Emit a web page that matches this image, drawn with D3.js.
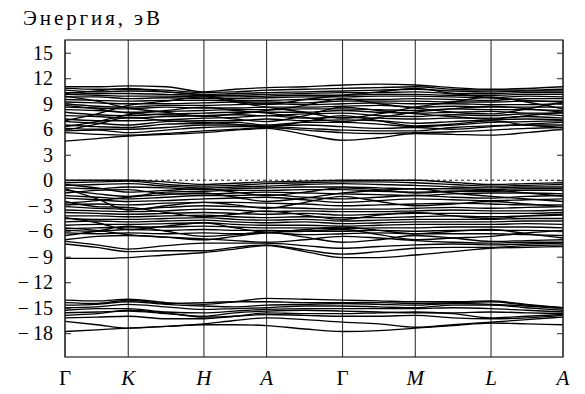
<!DOCTYPE html>
<html>
<head>
<meta charset="utf-8">
<script src="https://cdn.jsdelivr.net/npm/d3@7"></script>
<style>
  body { margin: 0; background: #fff; }
  svg { display: block; }
  svg text { font-family: "Liberation Serif", "Times New Roman", serif; }
</style>
</head>
<body>
<svg id="chart" width="585" height="394"></svg>
<script>
// k-path: high symmetry points and the sample grid (points + midpoints)
const kLabels = ['Γ', 'K', 'H', 'A', 'Γ', 'M', 'L', 'A'];
const kPoints = [0, 63.3, 139, 201.7, 277.7, 350.5, 426.3, 498.3];
const kGrid = [0, 32, 63.3, 101, 139, 170, 201.7, 240, 277.7, 314, 350.5, 388, 426.3, 462, 498.3];
const yTicks = [15, 12, 9, 6, 3, 0, -3, -6, -9, -12, -15, -18];

// conduction bands, eV
const conductionBands = [
  [4.6, 4.9, 5.2, 5.4, 5.6, 5.9, 6.1, 5.4, 4.7, 5.0, 5.5, 5.4, 5.3, 5.6, 6.0],
  [5.6, 5.4, 5.3, 5.5, 5.8, 6.0, 6.2, 5.9, 5.6, 5.5, 5.6, 5.7, 5.9, 6.1, 6.2],
  [5.8, 5.9, 5.6, 5.9, 6.2, 6.3, 6.3, 6.1, 5.9, 5.8, 5.8, 6.2, 6.4, 6.5, 6.5],
  [6.1, 6.0, 6.0, 6.2, 6.5, 6.5, 6.4, 6.5, 6.3, 6.1, 6.2, 6.0, 6.3, 6.6, 6.8],
  [6.5, 6.3, 6.2, 6.6, 6.7, 6.8, 6.5, 6.8, 6.8, 6.6, 6.3, 6.5, 6.8, 6.9, 7.0],
  [6.9, 6.7, 6.5, 6.9, 7.0, 7.0, 7.2, 7.0, 7.1, 7.0, 6.7, 6.9, 7.1, 7.2, 7.1],
  [7.2, 7.0, 7.0, 7.1, 7.3, 7.4, 7.6, 7.3, 7.4, 7.3, 7.2, 7.3, 7.3, 7.5, 7.3],
  [7.6, 7.5, 7.3, 7.5, 7.6, 7.7, 7.6, 7.8, 7.9, 7.6, 7.5, 7.7, 7.6, 7.8, 7.6],
  [8.0, 7.7, 7.6, 7.8, 7.9, 8.0, 8.0, 8.0, 8.2, 8.0, 7.9, 8.0, 8.1, 7.9, 7.9],
  [8.3, 8.2, 8.0, 8.1, 8.2, 8.3, 8.3, 8.4, 8.4, 8.3, 8.2, 8.4, 8.3, 8.3, 8.2],
  [8.6, 8.5, 8.4, 8.6, 8.5, 8.5, 8.6, 8.6, 8.7, 8.8, 8.6, 8.7, 8.6, 8.6, 8.6],
  [9.0, 8.7, 8.6, 8.8, 8.8, 8.9, 9.0, 8.9, 9.0, 9.1, 9.0, 9.0, 8.9, 8.9, 9.0],
  [9.2, 9.1, 9.0, 9.0, 9.1, 9.2, 9.2, 9.1, 9.3, 9.3, 9.3, 9.2, 9.2, 9.3, 9.3],
  [9.5, 9.4, 9.3, 9.4, 9.4, 9.4, 9.4, 9.5, 9.5, 9.5, 9.6, 9.5, 9.4, 9.6, 9.6],
  [9.8, 9.8, 9.6, 9.7, 9.6, 9.6, 9.7, 9.8, 9.8, 9.9, 9.9, 9.8, 9.7, 9.9, 9.8],
  [10.1, 10.0, 9.9, 9.9, 9.8, 9.8, 9.9, 10.0, 10.0, 10.1, 10.1, 10.0, 10.0, 10.1, 10.1],
  [10.3, 10.2, 10.2, 10.1, 10.0, 10.0, 10.1, 10.2, 10.3, 10.3, 10.4, 10.2, 10.2, 10.3, 10.3],
  [10.6, 10.4, 10.5, 10.4, 10.1, 10.2, 10.3, 10.4, 10.5, 10.6, 10.7, 10.5, 10.4, 10.5, 10.5],
  [10.8, 10.7, 10.7, 10.6, 10.3, 10.4, 10.6, 10.7, 10.8, 10.9, 11.0, 10.7, 10.6, 10.6, 10.7],
  [11.0, 11.0, 11.1, 11.0, 10.4, 10.7, 10.9, 11.0, 11.2, 11.3, 11.2, 10.9, 10.7, 10.8, 11.0],
  [9.9, 9.3, 8.5, 8.0, 7.5, 7.8, 8.2, 8.8, 9.6, 9.0, 8.5, 8.0, 7.8, 8.4, 9.2],
  [7.0, 7.8, 8.8, 9.3, 9.8, 9.2, 8.6, 8.0, 7.3, 7.8, 8.6, 9.2, 9.8, 9.2, 8.4],
  [5.9, 6.6, 7.4, 7.0, 6.8, 6.6, 6.3, 6.9, 7.6, 7.0, 6.4, 6.6, 7.0, 6.5, 6.2],
  [10.2, 10.5, 10.8, 10.4, 10.0, 9.4, 8.9, 9.5, 10.0, 10.4, 10.8, 10.2, 9.7, 9.4, 9.2],
  [8.8, 8.4, 7.9, 7.7, 7.6, 7.2, 6.9, 7.6, 8.6, 8.2, 7.8, 7.5, 7.2, 7.6, 8.0],
  [6.3, 6.9, 7.7, 8.2, 8.6, 8.2, 7.9, 7.4, 6.9, 7.4, 8.0, 8.4, 8.7, 8.4, 8.0]
];

// valence bands, eV
const valenceBands = [
  [0, 0, 0, -0.2, -0.5, -0.35, -0.2, -0.1, 0, 0, 0, -0.25, -0.5, -0.4, -0.3],
  [-0.3, -0.2, -0.1, -0.5, -0.7, -0.6, -0.4, -0.3, -0.2, -0.2, -0.3, -0.5, -0.7, -0.6, -0.5],
  [-0.6, -0.5, -0.4, -0.7, -0.9, -0.8, -0.7, -0.5, -0.4, -0.5, -0.6, -0.8, -0.9, -0.8, -0.8],
  [-0.9, -1.0, -0.8, -0.9, -1.1, -1.0, -0.9, -0.8, -0.8, -0.9, -1.0, -1.0, -1.1, -1.0, -1.0],
  [-1.2, -1.6, -1.9, -1.4, -1.3, -1.2, -1.2, -1.1, -1.1, -1.3, -1.4, -1.3, -1.3, -1.2, -1.2],
  [-1.5, -1.2, -1.1, -1.6, -1.6, -1.5, -1.4, -1.5, -1.6, -1.7, -1.8, -1.6, -1.5, -1.5, -1.6],
  [-1.8, -2.0, -2.2, -2.0, -1.8, -1.8, -1.7, -2.0, -2.2, -2.0, -1.8, -2.0, -2.1, -1.9, -1.8],
  [-2.1, -2.3, -2.5, -2.4, -2.2, -2.1, -2.0, -2.3, -2.6, -2.4, -2.2, -2.3, -2.4, -2.3, -2.2],
  [-2.9, -2.8, -2.9, -2.7, -2.6, -2.6, -2.7, -2.8, -3.0, -2.9, -2.8, -2.7, -2.8, -2.9, -2.9],
  [-3.1, -3.3, -3.4, -3.2, -3.0, -3.1, -3.2, -3.3, -3.4, -3.4, -3.3, -3.2, -3.3, -3.2, -3.1],
  [-3.5, -3.6, -3.7, -3.6, -3.4, -3.5, -3.7, -3.6, -3.7, -3.7, -3.6, -3.5, -3.6, -3.6, -3.5],
  [-3.8, -3.9, -4.0, -3.9, -3.8, -3.9, -4.0, -3.9, -4.1, -4.0, -3.9, -3.9, -3.9, -3.9, -3.8],
  [-4.2, -4.2, -4.3, -4.2, -4.1, -4.3, -4.4, -4.3, -4.4, -4.4, -4.3, -4.2, -4.3, -4.2, -4.1],
  [-4.5, -4.6, -4.6, -4.5, -4.4, -4.6, -4.7, -4.6, -4.8, -4.7, -4.6, -4.6, -4.6, -4.5, -4.5],
  [-4.9, -4.8, -4.9, -4.8, -4.7, -4.9, -5.0, -4.9, -5.1, -5.0, -4.9, -4.9, -4.9, -4.8, -4.8],
  [-5.3, -5.2, -5.2, -5.1, -5.0, -5.2, -5.3, -5.3, -5.4, -5.3, -5.2, -5.2, -5.2, -5.1, -5.2],
  [-5.7, -5.6, -5.5, -5.5, -5.4, -5.5, -5.6, -5.6, -5.7, -5.6, -5.6, -5.5, -5.5, -5.5, -5.6],
  [-5.9, -6.0, -5.8, -5.9, -5.8, -5.9, -5.9, -6.0, -6.0, -5.9, -6.0, -5.9, -5.9, -5.9, -6.0],
  [-6.2, -6.3, -6.2, -6.3, -6.2, -6.3, -6.2, -6.4, -6.3, -6.2, -6.3, -6.3, -6.3, -6.4, -6.5],
  [-7.0, -6.6, -6.5, -6.7, -6.9, -7.1, -7.3, -7.0, -6.6, -6.8, -7.1, -7.3, -7.4, -7.3, -7.3],
  [-7.2, -7.6, -8.1, -7.7, -7.4, -7.4, -7.4, -7.7, -8.0, -7.8, -7.6, -7.5, -7.6, -7.5, -7.4],
  [-7.5, -7.9, -8.4, -8.3, -8.3, -7.9, -7.6, -8.2, -8.7, -8.4, -8.0, -7.9, -7.9, -7.7, -7.6],
  [-9.2, -9.2, -9.1, -8.8, -8.5, -8.1, -7.7, -8.4, -9.1, -9.1, -8.8, -8.4, -8.0, -7.9, -7.8],
  [-1.0, -2.2, -3.5, -3.0, -2.6, -2.9, -3.3, -2.6, -1.9, -2.5, -3.0, -2.8, -2.5, -2.8, -3.1],
  [-2.5, -3.1, -3.2, -3.8, -4.3, -4.0, -3.6, -4.1, -4.6, -4.1, -3.8, -4.2, -4.5, -4.2, -4.0],
  [-4.4, -5.0, -5.8, -5.4, -5.0, -5.6, -6.1, -5.8, -5.5, -5.9, -6.3, -6.0, -5.8, -6.3, -6.8],
  [-6.5, -6.0, -5.4, -6.0, -6.6, -6.4, -6.1, -6.7, -7.3, -7.0, -6.5, -6.8, -7.2, -7.1, -7.0],
  [-2.7, -2.4, -2.0, -1.7, -1.5, -2.0, -2.5, -2.1, -1.5, -1.2, -1.0, -1.5, -1.9, -2.2, -2.5],
  [-0.5, -0.9, -1.4, -1.2, -1.0, -1.4, -1.8, -1.4, -0.9, -1.1, -1.5, -1.3, -1.2, -1.5, -1.9],
  [-5.6, -5.9, -6.4, -6.7, -7.0, -6.6, -6.2, -6.0, -5.8, -6.4, -7.0, -6.8, -6.6, -6.2, -5.9]
];

// semicore bands, eV
const semicoreBands = [
  [-14.1, -14.2, -14.0, -14.4, -14.6, -14.3, -13.9, -14.0, -14.1, -14.2, -14.3, -14.3, -14.2, -14.6, -15.0],
  [-14.4, -14.5, -14.1, -14.5, -14.4, -14.3, -14.3, -14.4, -14.4, -14.4, -14.5, -14.4, -14.3, -14.7, -15.0],
  [-14.7, -14.6, -14.3, -14.6, -14.8, -14.9, -14.7, -14.6, -14.5, -14.6, -14.7, -14.5, -14.6, -14.8, -15.1],
  [-15.0, -14.9, -14.6, -14.9, -15.2, -15.1, -15.0, -14.8, -14.8, -14.9, -15.0, -14.7, -14.7, -15.0, -15.3],
  [-15.3, -15.1, -15.1, -15.5, -15.6, -15.4, -15.2, -15.1, -15.1, -15.1, -15.1, -15.0, -15.1, -15.3, -15.5],
  [-15.6, -15.5, -15.4, -15.7, -16.0, -15.6, -15.4, -15.3, -15.4, -15.5, -15.6, -15.6, -15.5, -15.6, -15.7],
  [-15.9, -15.7, -15.3, -15.6, -16.1, -16.0, -15.6, -15.7, -15.7, -15.6, -15.5, -15.7, -16.2, -16.0, -15.8],
  [-16.2, -16.1, -16.0, -16.3, -16.3, -16.0, -15.8, -15.9, -16.0, -16.0, -15.9, -16.2, -16.3, -16.2, -15.9],
  [-17.8, -17.6, -17.4, -17.2, -17.0, -17.0, -17.1, -17.5, -17.8, -17.7, -17.4, -17.1, -16.8, -16.9, -17.0],
  [-16.6, -17.0, -17.4, -17.2, -16.9, -16.5, -16.2, -16.4, -16.7, -16.9, -17.3, -17.0, -16.7, -16.4, -16.1]
];

const margin = { top: 40, right: 22, bottom: 37, left: 65 };
const width = 585, height = 394;
const svg = d3.select('#chart');

const x = d3.scaleLinear()
  .domain([0, kPoints[kPoints.length - 1]])
  .range([margin.left, width - margin.right]);
const y = d3.scaleLinear()
  .domain([-20.8, 16.5])
  .range([height - margin.bottom, margin.top]);

// minus sign with a thin space, like the TeX original
const fmt = d => d < 0 ? '\u2212\u2009' + Math.abs(d) : String(d);

// vertical lines at high-symmetry points
svg.append('g')
  .selectAll('line')
  .data(kPoints)
  .join('line')
  .attr('x1', d => x(d)).attr('x2', d => x(d))
  .attr('y1', margin.top).attr('y2', height - margin.bottom)
  .attr('stroke', '#333')
  .attr('stroke-width', 1.1);

// Fermi level
svg.append('line')
  .attr('x1', x.range()[0]).attr('x2', x.range()[1])
  .attr('y1', y(0)).attr('y2', y(0))
  .attr('stroke', '#000')
  .attr('stroke-width', 0.9)
  .attr('stroke-dasharray', '3,3');

const line = d3.line()
  .x((d, i) => x(kGrid[i]))
  .y(d => y(d))
  .curve(d3.curveMonotoneX);

const allBands = conductionBands.concat(valenceBands, semicoreBands);
svg.append('g')
  .selectAll('path')
  .data(allBands)
  .join('path')
  .attr('d', line)
  .attr('fill', 'none')
  .attr('stroke', '#000')
  .attr('stroke-width', 1.35);

// frame
svg.append('rect')
  .attr('x', margin.left).attr('y', margin.top)
  .attr('width', width - margin.left - margin.right)
  .attr('height', height - margin.bottom - margin.top)
  .attr('fill', 'none')
  .attr('stroke', '#222')
  .attr('stroke-width', 1.2);

// y axes, ticks pointing inside
const yAxis = svg.append('g')
  .attr('transform', 'translate(' + margin.left + ',0)')
  .call(d3.axisLeft(y).tickValues(yTicks).tickSize(-6).tickPadding(12).tickFormat(fmt));
yAxis.attr('font-family', null).attr('font-size', null);
yAxis.select('.domain').remove();
yAxis.selectAll('text').attr('font-size', 20).attr('fill', '#000');
yAxis.selectAll('line').attr('stroke', '#222');

const yAxisR = svg.append('g')
  .attr('transform', 'translate(' + (width - margin.right) + ',0)')
  .call(d3.axisRight(y).tickValues(yTicks).tickSize(-6).tickFormat(''));
yAxisR.select('.domain').remove();
yAxisR.selectAll('line').attr('stroke', '#222');

// k-point labels
svg.append('g')
  .selectAll('text')
  .data(kLabels)
  .join('text')
  .attr('x', (d, i) => x(kPoints[i]))
  .attr('y', 385)
  .attr('text-anchor', 'middle')
  .attr('font-size', 21)
  .attr('font-style', d => d === 'Γ' ? 'normal' : 'italic')
  .text(d => d);

// axis title
svg.append('text')
  .attr('x', 23)
  .attr('y', 25)
  .attr('font-size', 21)
  .attr('textLength', 137)
  .attr('lengthAdjust', 'spacing')
  .text('Энергия, эВ');
</script>
</body>
</html>
